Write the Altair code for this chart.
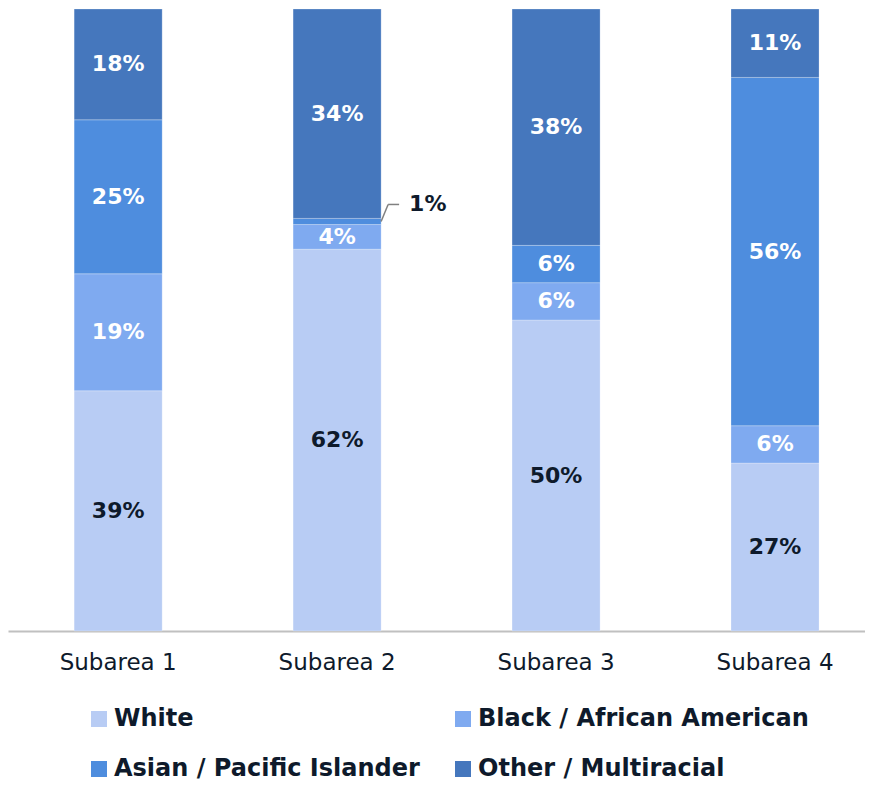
import altair as alt
import pandas as pd

subareas = ["Subarea 1", "Subarea 2", "Subarea 3", "Subarea 4"]
groups = ["White", "Black / African American", "Asian / Pacific Islander", "Other / Multiracial"]
white = [39, 62, 50, 27]
black = [19, 4, 6, 6]
asian = [25, 1, 6, 56]
other = [18, 34, 38, 11]
colors = ["#b8ccf4", "#7faaf0", "#4e8dde", "#4577bd"]
label_colors = ["#0e1a2b", "#ffffff", "#ffffff", "#ffffff"]

series = [white, black, asian, other]
rows = []
for i, s in enumerate(subareas):
    vals = [ser[i] for ser in series]
    total = sum(vals)
    cum = 0
    for g, v, lc in zip(groups, vals, label_colors):
        y0 = cum / total
        cum += v
        y1 = cum / total
        rows.append({"sub": s, "grp": g, "val": v, "y0": y0, "y1": y1,
                     "mid": (y0 + y1) / 2, "lab": f"{v}%", "lc": lc,
                     "inside": v >= 3})
df = pd.DataFrame(rows)

FONT = "DejaVu Sans"
DARK = "#0e1a2b"

xscale = alt.Scale(domain=subareas, paddingInner=0.598, paddingOuter=0.256, align=0.59)
yscale = alt.Scale(domain=[0, 1], nice=False, zero=True)

base = alt.Chart(df)

bars = base.mark_bar(stroke="#ffffff", strokeWidth=0.4, strokeOpacity=0.6).encode(
    x=alt.X("sub:N", scale=xscale, sort=subareas,
            axis=alt.Axis(title=None, labelAngle=0, ticks=False, domainColor="#c0c0c0",
                          domainWidth=2, labelFontSize=23, labelFont=FONT, labelColor=DARK,
                          labelPadding=20, grid=False)),
    y=alt.Y("y0:Q", scale=yscale, axis=None),
    y2="y1:Q",
    color=alt.Color("grp:N", scale=alt.Scale(domain=groups, range=colors),
                    legend=alt.Legend(title=None, orient="none", legendX=79, legendY=698,
                                      columns=2, direction="horizontal",
                                      symbolType="square", symbolSize=256,
                                      symbolStrokeWidth=0, labelFont=FONT, labelFontSize=24,
                                      labelFontWeight="bold", labelColor=DARK,
                                      labelOffset=3, columnPadding=31, rowPadding=26,
                                      padding=0, labelLimit=500)),
)

labels = base.transform_filter("datum.inside").mark_text(
    font=FONT, fontSize=22, fontWeight="bold", baseline="middle", align="center"
).encode(
    x=alt.X("sub:N", scale=xscale, sort=subareas),
    y=alt.Y("mid:Q", scale=yscale),
    text="lab:N",
    color=alt.Color("lc:N", scale=None),
)

small = base.transform_filter("!datum.inside")

lead1 = small.mark_rule(color="#808080", strokeWidth=1.5, xOffset=44, x2Offset=51,
                        yOffset=0, y2Offset=-17).encode(
    x=alt.X("sub:N", scale=xscale, sort=subareas),
    x2="sub:N",
    y=alt.Y("mid:Q", scale=yscale),
    y2="mid:Q",
)
lead2 = small.mark_rule(color="#808080", strokeWidth=1.5, xOffset=51, x2Offset=62,
                        yOffset=-17, y2Offset=-17).encode(
    x=alt.X("sub:N", scale=xscale, sort=subareas),
    x2="sub:N",
    y=alt.Y("mid:Q", scale=yscale),
    y2="mid:Q",
)
small_lab = small.mark_text(font=FONT, fontSize=22, fontWeight="bold", align="left",
                            baseline="middle", dx=72, dy=-17, color=DARK).encode(
    x=alt.X("sub:N", scale=xscale, sort=subareas),
    y=alt.Y("mid:Q", scale=yscale),
    text="lab:N",
)

chart = alt.layer(bars, labels, lead1, lead2, small_lab).properties(
    width=857, height=622, padding=0, background="#ffffff"
).configure_view(stroke=None)

chart.save("out.html", embed_options={"renderer": "svg", "actions": False})
